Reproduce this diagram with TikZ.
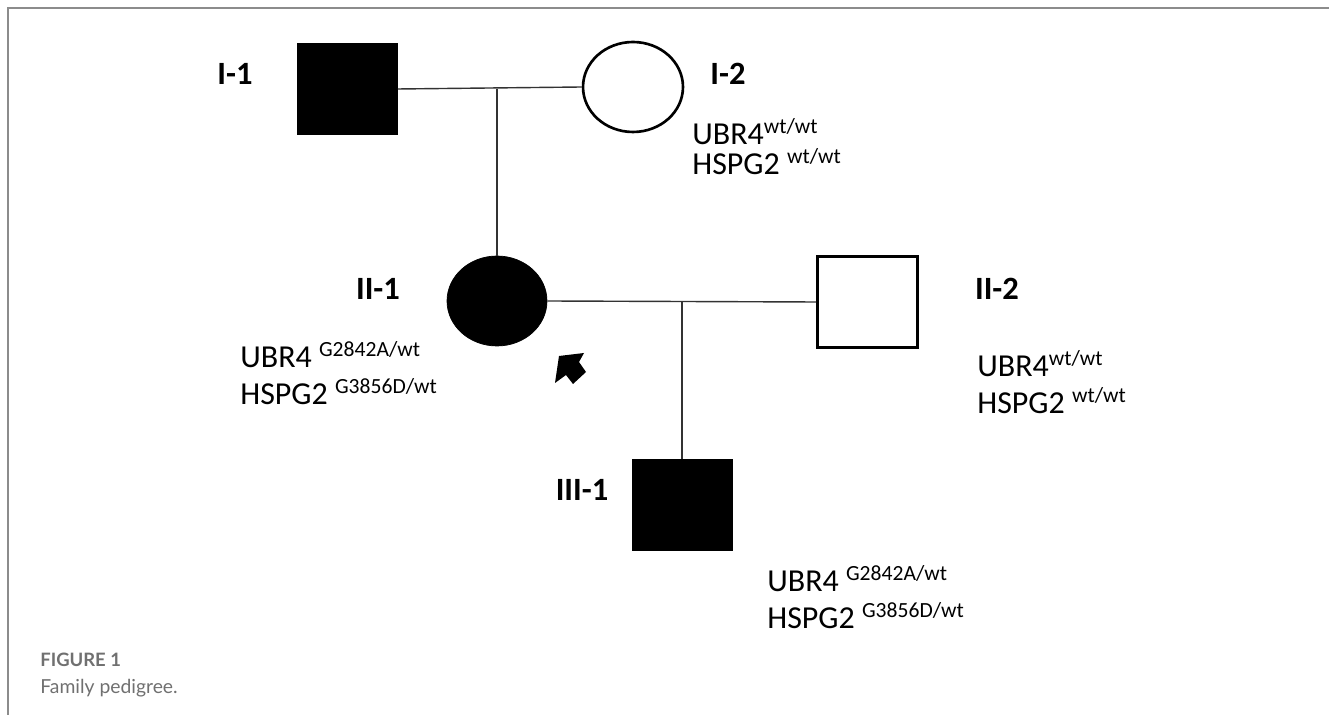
\documentclass[tikz,border=0pt]{standalone}
\usepackage{fontspec}
\setmainfont{Carlito}
\newfontfamily\capfont{Lato}
\usetikzlibrary{shapes.geometric,positioning}
\definecolor{framegray}{HTML}{8C8C8C}
\definecolor{capgray}{HTML}{707070}
\definecolor{linegray}{HTML}{333333}
\newcommand{\allele}[1]{\raisebox{6.5pt}{\fontsize{12.3}{13}\selectfont #1}}

\begin{document}
\begin{tikzpicture}[
  x=0.02cm,y=-0.02cm,
  male/.style={draw,line width=1.5pt,minimum width=2cm,minimum height=1.82cm,inner sep=0pt},
  female/.style={ellipse,draw,line width=1.5pt,minimum width=2cm,minimum height=1.8cm,inner sep=0pt},
  affected/.style={fill=black,draw=black,line width=0.4pt},
  tag/.style={font=\fontsize{18.5}{22}\selectfont\bfseries},
  geno/.style={anchor=base west,inner sep=0pt,font=\fontsize{18.2}{22}\selectfont},
  link/.style={draw=linegray,line width=0.8pt}
]
  \useasboundingbox (0,0) rectangle (1329,715);
  \draw[framegray,line width=1.2pt] (8,715) -- (8,8) -- (1329,8);

  % generation I
  \node[male,affected] (m1) at (347.5,89) {};
  \node[female] (f1) at (633,87) {};
  \node[tag] (t11) at (235,74) {I-1};
  \node[tag] (t12) at (728,74) {I-2};
  \node[geno] (u12) at (692,145) {UBR4\allele{wt/wt}};
  \node[geno] (h12) at (692,175) {HSPG2 \allele{wt/wt}};

  % generation II
  \node[female,affected] (d1) at (497,301) {};
  \node[male] (s2) at (867.5,302) {};
  \node[tag] (t21) at (378,289) {II-1};
  \node[tag] (t22) at (997,289) {II-2};
  \node[geno] (u21) at (240,368) {UBR4 \allele{G2842A/wt}};
  \node[geno] (h21) at (240,405) {HSPG2 \allele{G3856D/wt}};
  \node[geno] (u22) at (977,377) {UBR4\allele{wt/wt}};
  \node[geno] (h22) at (977,414) {HSPG2 \allele{wt/wt}};

  % proband arrow
  \fill (559,356) -- (584,353) -- (579,362) -- (586,372) -- (573,384) -- (566,375) -- (555,383) -- cycle;

  % generation III
  \node[male,affected] (g3) at (682,504.5) {};
  \node[tag] (t31) at (582,490) {III-1};
  \node[geno] (u31) at (767,592) {UBR4 \allele{G2842A/wt}};
  \node[geno] (h31) at (767,629) {HSPG2 \allele{G3856D/wt}};

  % matings and descent
  \draw[link] (m1.east) -- (f1.west);
  \draw[link] (d1.north) -- (d1.north |- m1.east);
  \draw[link] (d1.east) -- (s2.west);
  \draw[link] (g3.north) -- (g3.north |- d1.east);

  % caption
  \node[anchor=base west,inner sep=0pt,text=capgray,font=\capfont\fontsize{10.5}{12}\selectfont\bfseries] (fig) at (40,667) {FIGURE 1};
  \node[anchor=base west,inner sep=0pt,text=capgray,font=\capfont\fontsize{11}{13}\selectfont] (cap) at (40,694) {Family pedigree.};
\end{tikzpicture}
\end{document}
